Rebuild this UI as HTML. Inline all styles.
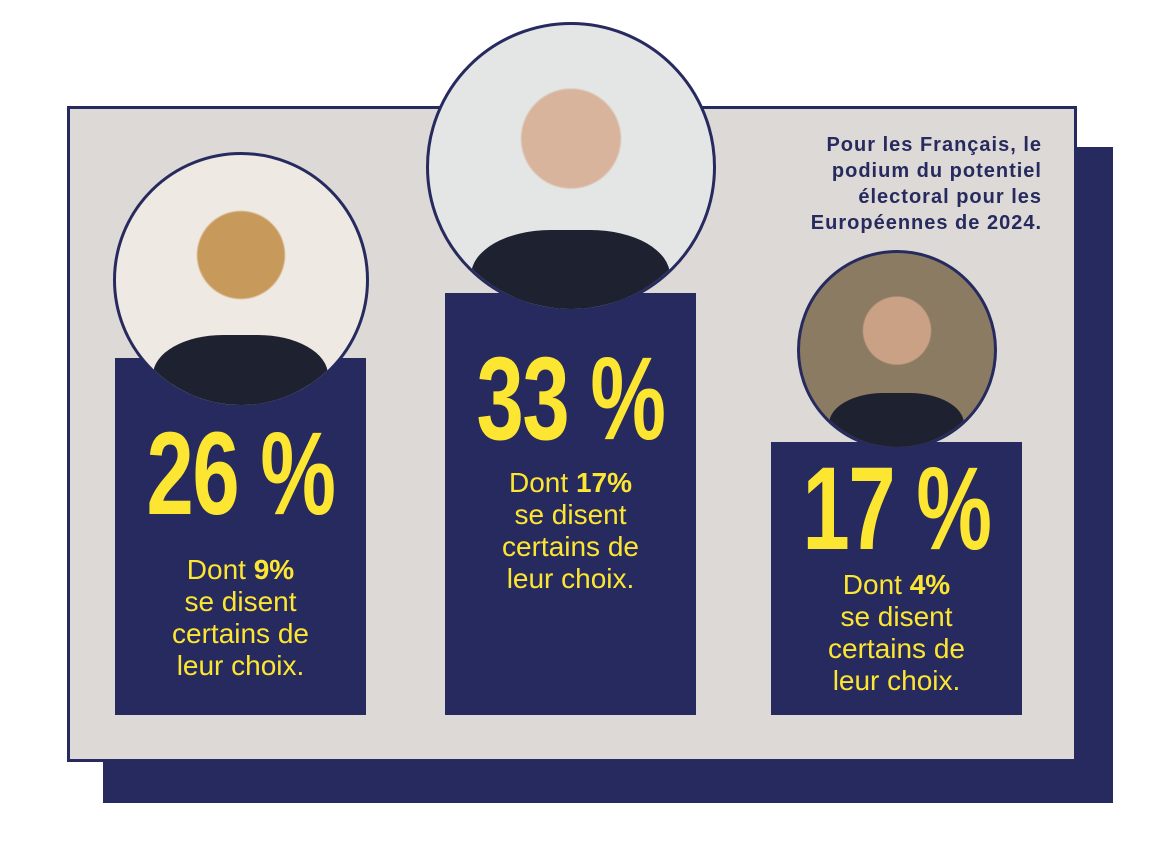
<!DOCTYPE html>
<html><head><meta charset="utf-8"><style>
body{margin:0;width:1165px;height:866px;background:#fff;overflow:hidden;position:relative;font-family:"Liberation Sans",sans-serif}
.abs{position:absolute}
.big{position:absolute;color:#fde631;font-family:"Liberation Sans Narrow","Liberation Sans",sans-serif;font-weight:bold;font-size:118px;line-height:1;text-align:center;transform:scaleX(0.72);letter-spacing:-2px}
.sub{position:absolute;color:#fde631;font-size:28px;line-height:32px;text-align:center}
.sub b{font-weight:bold}
</style></head><body>
<div class="abs" style="left:103px;top:147px;width:1010px;height:656px;background:#262a5e"></div>
<div class="abs" style="left:67px;top:106px;width:1004px;height:650px;background:#dcd9d6;border:3px solid #262a5e"></div>
<div class="abs" style="left:700px;top:132px;width:342px;text-align:right;color:#262a5e;font-weight:bold;font-size:20px;line-height:26px;letter-spacing:1px">Pour les Français, le<br>podium du potentiel<br>électoral pour les<br>Européennes de 2024.</div>
<div id="chart"></div>
<script>
const names=["marion","jordan","francois"];
const values=[26,33,17];
const certain=[9,17,4];
const bottom=715, barW=251;
const lefts=[115,445,771];
function yScale(v){return bottom-(115+v*9.3);}
const bigOff=[57,47,8];
const subOff=[196,174,127];
const circOff=[78,126,92];
const root=document.getElementById('chart');
const photoCols=[["#efe9e3","#c79a5c"],["#e4e6e6","#d8b49c"],["#8a7b62","#caa185"]];
values.forEach((v,i)=>{
  const top=yScale(v);
  const bar=document.createElement('div');
  bar.className='abs';
  
  
  bar.style.cssText=`left:${lefts[i]}px;top:${top}px;width:${barW}px;height:${bottom-top}px;background:#262a5e`;
  root.appendChild(bar);
  const r=i==1?145:(i==0?128:100);
  const cx=lefts[i]+barW/2, cy=top-circOff[i];
  const c=document.createElement('div');
  c.className='abs';
  
  
  c.style.cssText=`left:${cx-r}px;top:${cy-r}px;width:${2*r-6}px;height:${2*r-6}px;border-radius:50%;border:3px solid #262a5e;overflow:hidden;background:radial-gradient(circle at 50% 40%, ${photoCols[i][1]} 0 22%, ${photoCols[i][0]} 23%);`;
  const suit=document.createElement('div');
  suit.className='abs';
  suit.style.cssText=`left:15%;top:72%;width:70%;height:40%;border-radius:40% 40% 0 0;background:#1e2230`;
  c.appendChild(suit);
  root.appendChild(c);
  const b=document.createElement('div');
  b.className='big';
  
  
  b.style.cssText+=`left:${lefts[i]-30}px;top:${top+bigOff[i]}px;width:${barW+60}px`;
  b.textContent=v+' %';
  root.appendChild(b);
  const s=document.createElement('div');
  s.className='sub';
  
  
  s.style.cssText+=`left:${lefts[i]}px;top:${top+subOff[i]}px;width:${barW}px`;
  s.innerHTML=`Dont <b>${certain[i]}%</b><br>se disent<br>certains de<br>leur choix.`;
  root.appendChild(s);
});
</script>
</body></html>
